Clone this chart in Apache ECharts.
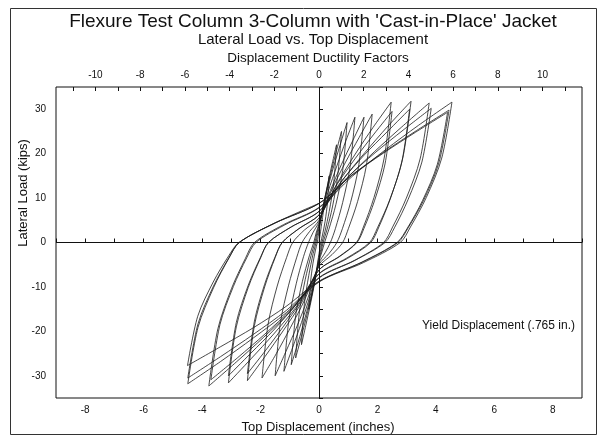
<!DOCTYPE html>
<html><head><meta charset="utf-8">
<script src="https://cdn.jsdelivr.net/npm/echarts@6/dist/echarts.min.js"></script>
<style>html,body{margin:0;padding:0;background:#fff}#c{width:601px;height:436px}</style>
</head><body><div id="c"></div>
<script>
// Tick labels
const bottomTicks = [-8, -6, -4, -2, 0, 2, 4, 6, 8];
const topTicks = [-10, -8, -6, -4, -2, 0, 2, 4, 6, 8, 10];
const topMinorTicks = [-11, -10, -9, -8, -7, -6, -5, -4, -3, -2, -1, 0, 1, 2, 3, 4, 5, 6, 7, 8, 9, 10, 11];
const yTicks = [-30, -20, -10, 0, 10, 20, 30];
const yieldDisp = 0.765; // inches

// Hysteresis path [top displacement (in), lateral load (kips)]
const elasticCycles = [
  [0,0],[0.17,7.8],[0.35,15],
  [0.29,9.0],[0.21,4.8],[0.12,1.7],[0.06,0],[0.03,-1.3],[0,-2.5],[-0.09,-6.3],[-0.18,-9.4],[-0.26,-12.3],[-0.35,-15],
  [-0.29,-9.0],[-0.21,-4.8],[-0.12,-1.7],[-0.06,0],[-0.03,1.3],[0,2.5],[0.15,8.4],[0.3,13.2],[0.45,17.7],[0.6,22],
  [0.5,13.2],[0.35,7.0],[0.2,2.4],[0.1,0],[0.06,-1.6],[0,-3.2],[-0.15,-9.1],[-0.3,-14.1],[-0.45,-18.6],[-0.6,-23],
  [-0.5,-13.8],[-0.35,-7.4],[-0.2,-2.5],[-0.1,0],[-0.06,1.6],[0,3.2],[0.19,9.7],[0.39,15.2],[0.58,20.2],[0.77,25],
  [0.64,15],[0.46,8.0],[0.27,2.8],[0.14,0],[0.08,-1.9],[0,-3.8],[-0.2,-10.5],[-0.4,-16],[-0.6,-21.1],[-0.8,-26],
  [-0.67,-15.6],[-0.47,-8.3],[-0.27,-2.9],[-0.14,0],[-0.08,1.9],[0,3.8],[0.24,10.8],[0.48,16.6],[0.72,21.9],[0.96,27]
];
const cyclesMu1 = [
  [0.81,16.2],[0.58,8.6],[0.34,3.0],[0.19,0],[0.10,-2.1],[0,-4.2],[-0.24,-11.2],[-0.48,-17],[-0.71,-22.4],[-0.95,-27.5],
  [-0.80,-16.5],[-0.57,-8.8],[-0.33,-3.0],[-0.18,0],[-0.10,2.1],[0,4.2],[0.31,11.4],[0.62,17.4],[0.92,22.9],[1.23,28.2],
  [1.06,16.9],[0.81,9.0],[0.56,3.1],[0.39,0],[0.21,-2.3],[0,-4.6],[-0.3,-11.9],[-0.6,-18],[-0.9,-23.6],[-1.2,-29],
  [-1.03,-17.4],[-0.78,-9.3],[-0.53,-3.2],[-0.36,0],[-0.2,2.3],[0,4.6],[0.39,11.7],[0.77,17.6],[1.16,23],[1.54,28.2]
];
const cyclesMu2 = [
  [1.35,16.9],[1.08,9.0],[0.80,3.1],[0.61,0],[0.34,-2.5],[0,-5],[-0.38,-12.5],[-0.75,-18.8],[-1.13,-24.5],[-1.5,-30],
  [-1.32,-18],[-1.04,-9.6],[-0.76,-3.3],[-0.58,0],[-0.32,2.5],[0,5],[0.46,12.2],[0.91,18.1],[1.37,23.6],[1.82,28.9],
  [1.62,17.3],[1.32,9.2],[1.01,3.2],[0.81,0],[0.45,-2.7],[0,-5.4],[-0.49,-12.9],[-0.98,-19.2],[-1.46,-25],[-1.95,-30.5],
  [-1.74,-18.3],[-1.43,-9.8],[-1.11,-3.4],[-0.9,0],[-0.5,2.8],[0,5.5],[0.62,13.3],[1.24,19.9],[1.85,25.9],[2.47,31.6]
];
const cyclesMu3 = [
  [2.23,19.0],[1.88,10.1],[1.52,3.5],[1.28,0],[0.70,-3.1],[0,-6.2],[-0.61,-13.7],[-1.23,-19.9],[-1.84,-25.6],[-2.45,-31.1],
  [-2.21,-18.7],[-1.86,-10.0],[-1.50,-3.4],[-1.26,0],[-0.69,3.1],[0,6.2],[0.63,13.2],[1.25,19],[1.88,24.4],[2.5,29.5],
  [2.26,17.7],[1.9,9.4],[1.54,3.2],[1.3,0],[0.72,-3.1],[0,-6.2],[-0.61,-13.2],[-1.23,-19],[-1.84,-24.4],[-2.45,-29.5],
  [-2.21,-17.7],[-1.86,-9.4],[-1.50,-3.2],[-1.26,0],[-0.69,3.1],[0,6.2],[0.79,13.9],[1.58,20.3],[2.36,26.2],[3.15,31.8]
];
const cyclesMu4 = [
  [2.87,19.1],[2.46,10.2],[2.05,3.5],[1.77,0],[0.97,-3.6],[0,-7.1],[-0.78,-14.5],[-1.55,-20.6],[-2.33,-26.2],[-3.1,-31.6],
  [-2.83,-19.0],[-2.42,-10.1],[-2.0,-3.5],[-1.73,0],[-0.95,3.5],[0,7],[0.78,13.9],[1.55,19.7],[2.33,24.9],[3.1,30],
  [2.83,18],[2.42,9.6],[2.0,3.3],[1.73,0],[0.95,-3.5],[0,-7],[-0.78,-13.9],[-1.55,-19.7],[-2.33,-24.9],[-3.1,-30],
  [-2.83,-18],[-2.42,-9.6],[-2.0,-3.3],[-1.73,0],[-0.95,3.5],[0,7],[0.94,14.3],[1.89,20.4],[2.83,26],[3.77,31.4]
];
const cyclesMu5 = [
  [3.46,18.8],[2.99,10.0],[2.52,3.5],[2.21,0],[1.22,-4.0],[0,-7.9],[-0.94,-15.2],[-1.89,-21.3],[-2.83,-26.9],[-3.77,-32.3],
  [-3.46,-19.4],[-2.99,-10.3],[-2.52,-3.6],[-2.21,0],[-1.22,4.0],[0,7.9],[0.96,14.6],[1.92,20.2],[2.88,25.3],[3.84,30.2],
  [3.52,18.1],[3.05,9.7],[2.58,3.3],[2.26,0],[1.24,-4.0],[0,-8],[-0.93,-14.9],[-1.85,-20.6],[-2.78,-25.9],[-3.7,-30.9],
  [-3.39,-18.5],[-2.93,-9.9],[-2.47,-3.4],[-2.16,0],[-1.19,3.9],[0,7.8],[1.14,14.9],[2.28,20.9],[3.41,26.4],[4.55,31.6]
];
const cyclesMu6 = [
  [4.20,19.0],[3.67,10.1],[3.13,3.5],[2.78,0],[1.53,-4.5],[0,-8.9],[-1.12,-15.8],[-2.25,-21.5],[-3.37,-26.8],[-4.49,-31.8],
  [-4.14,-19.1],[-3.61,-10.2],[-3.08,-3.5],[-2.73,0],[-1.5,4.4],[0,8.8],[1.11,15.1],[2.23,20.4],[3.34,25.2],[4.45,29.8],
  [4.10,17.9],[3.58,9.5],[3.05,3.3],[2.7,0],[1.49,-4.4],[0,-8.8],[-1.12,-15.3],[-2.25,-20.7],[-3.37,-25.7],[-4.49,-30.5],
  [-4.14,-18.3],[-3.61,-9.8],[-3.08,-3.4],[-2.73,0],[-1.5,4.4],[0,8.8],[1.1,15.0],[2.2,20.1],[3.3,24.8],[4.4,29.3],
  [4.05,17.6],[3.54,9.4],[3.02,3.2],[2.67,0],[1.47,-4.4],[0,-8.7],[-1.13,-14.4],[-2.25,-19.2],[-3.38,-23.5],[-4.5,-27.7],
  [-4.15,-16.6],[-3.62,-8.9],[-3.09,-3.0],[-2.74,0],[-1.51,4.4],[0,8.8]
];

const path = [].concat(elasticCycles, cyclesMu1, cyclesMu2, cyclesMu3, cyclesMu4, cyclesMu5, cyclesMu6);

const FONT = 'Liberation Sans, Arial, sans-serif';
const INK = '#111';
const chart = echarts.init(document.getElementById('c'), null, {renderer: 'canvas'});
const xMax = 9;
chart.setOption({
  animation: false,
  backgroundColor: '#fff',
  grid: {left: 56, right: 19, top: 87, bottom: 38, show: true, borderColor: INK, borderWidth: 1, backgroundColor: 'transparent'},
  xAxis: [{
    type: 'value', position: 'bottom', min: -xMax, max: xMax, interval: 1,
    axisLine: {show: false},
    axisTick: {show: true, inside: true, length: 4, lineStyle: {color: INK}},
    splitLine: {show: false},
    axisLabel: {color: INK, fontFamily: FONT, fontSize: 10, margin: 7,
      formatter: v => bottomTicks.indexOf(v) >= 0 ? String(v) : ''}
  }, {
    type: 'value', position: 'top', min: -xMax / yieldDisp, max: xMax / yieldDisp,
    axisLine: {show: false},
    axisTick: {show: true, inside: true, length: 4, lineStyle: {color: INK}, customValues: topMinorTicks},
    splitLine: {show: false},
    axisLabel: {color: INK, fontFamily: FONT, fontSize: 10, margin: 7, customValues: topTicks,
      formatter: v => String(Math.round(v))}
  }],
  yAxis: {
    type: 'value', min: -35, max: 35, interval: 5,
    axisLine: {show: false},
    axisTick: {show: true, inside: true, length: 4, lineStyle: {color: INK}},
    splitLine: {show: false},
    axisLabel: {color: INK, fontFamily: FONT, fontSize: 10, margin: 10,
      formatter: v => yTicks.indexOf(v) >= 0 ? String(v) : ''}
  },
  series: [{
    type: 'line', xAxisIndex: 0, data: path, showSymbol: false, symbol: 'none',
    smooth: 0.3, lineStyle: {color: '#1a1a1a', width: 0.8}, silent: true,
    markLine: {
      silent: true, symbol: 'none', label: {show: false},
      lineStyle: {color: INK, width: 1, type: 'solid'},
      data: [{xAxis: 0}, {yAxis: 0}]
    }
  }],
  graphic: [
    {type: 'rect', shape: {x: 10.5, y: 8.5, width: 586, height: 426}, style: {fill: 'none', stroke: '#333', lineWidth: 1}, silent: true},
    {type: 'text', x: 313, y: 22, style: {text: "Flexure Test Column 3-Column with 'Cast-in-Place' Jacket", font: '19px ' + FONT, fill: INK, textAlign: 'center', textVerticalAlign: 'middle'}},
    {type: 'text', x: 313, y: 40, style: {text: 'Lateral Load vs. Top Displacement', font: '15px ' + FONT, fill: INK, textAlign: 'center', textVerticalAlign: 'middle'}},
    {type: 'text', x: 318, y: 58, style: {text: 'Displacement Ductility Factors', font: '13.5px ' + FONT, fill: INK, textAlign: 'center', textVerticalAlign: 'middle'}},
    {type: 'text', x: 318, y: 427, style: {text: 'Top Displacement (inches)', font: '13px ' + FONT, fill: INK, textAlign: 'center', textVerticalAlign: 'middle'}},
    {type: 'text', x: 23, y: 193, rotation: Math.PI / 2, style: {text: 'Lateral Load (kips)', font: '13px ' + FONT, fill: INK, textAlign: 'center', textVerticalAlign: 'middle'}},
    {type: 'text', x: 422, y: 326, style: {text: 'Yield Displacement (.765 in.)', font: '12px ' + FONT, fill: INK, textAlign: 'left', textVerticalAlign: 'middle'}}
  ]
});
</script>
</body></html>
